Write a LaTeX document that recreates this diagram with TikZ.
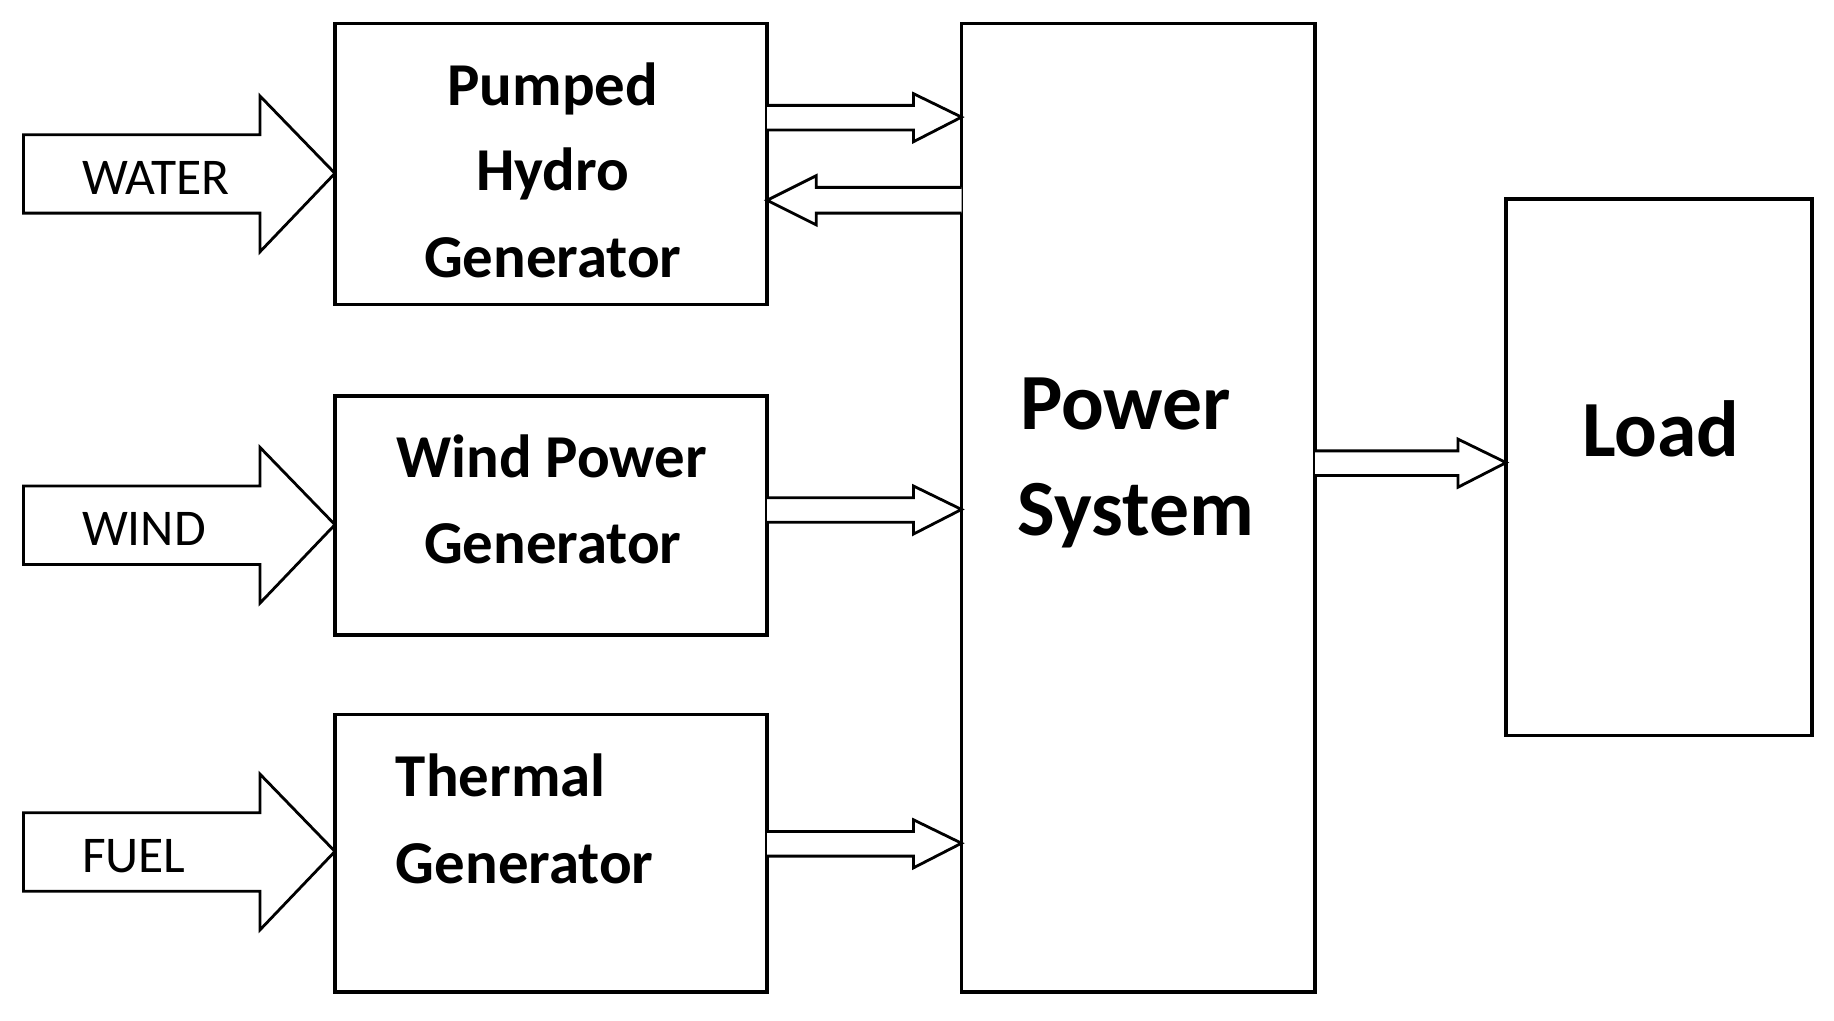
\documentclass[tikz,border=0pt]{standalone}
\usepackage{fontspec}
\setmainfont{Carlito}
\begin{document}
\begin{tikzpicture}[x=0.5pt,y=-0.5pt,
  box/.style={draw,line width=1.5pt,inner sep=0pt},
  btxt/.style={font=\fontsize{26}{30}\selectfont\bfseries,anchor=base},
  ltxt/.style={font=\fontsize{22}{26}\selectfont,anchor=base west},
  big/.style={font=\fontsize{34}{40}\selectfont\bfseries},
  arr/.style={draw,line width=1.2pt,fill=white,line join=miter}]
\useasboundingbox (0,0) rectangle (1566,871);
% boxes
\draw[box] (286,20) rectangle (655,260);
\draw[box] (286,338) rectangle (655,542);
\draw[box] (286,610) rectangle (655,847);
\draw[box] (821,20) rectangle (1123,847);
\draw[box] (1286,170) rectangle (1547,628);
% texts
\node[btxt] (t1) at (472,90) {Pumped};
\node[btxt] (t2) at (472,163) {Hydro};
\node[btxt] (t3) at (472,237) {Generator};
\node[btxt] (t4) at (471,408) {Wind Power};
\node[btxt] (t5) at (472,481) {Generator};
\node[btxt,anchor=base west] (t6) at (331,680) {Thermal};
\node[btxt,anchor=base west] (t7) at (331,754) {Generator};
\node[big,anchor=base west] (p1) at (864,367) {Power};
\node[big,anchor=base west] (p2) at (862,457) {System};
\node[big,anchor=base] (ld) at (1418,390) {Load};
% input arrows
\foreach \c/\l in {148/WATER,448/WIND,727/FUEL}{
  \draw[arr] (20,\c-33) -- (222,\c-33) -- (222,\c-66) -- (286,\c) -- (222,\c+67) -- (222,\c+34) -- (20,\c+34) -- cycle;
  \node[ltxt] at (63,\c+18) {\l};
}
% small arrows right
\foreach \x/\X/\c in {655/821/100,655/821/435,655/821/720,1123/1286/395}{
  \draw[arr] (\x,\c-10) -- (\X-41,\c-10) -- (\X-41,\c-20) -- (\X,\c) -- (\X-41,\c+21) -- (\X-41,\c+11) -- (\x,\c+11);
}
% back arrow
\draw[arr] (821,160) -- (697,160) -- (697,150) -- (655,171) -- (697,192) -- (697,182) -- (821,182);
\end{tikzpicture}
\end{document}
